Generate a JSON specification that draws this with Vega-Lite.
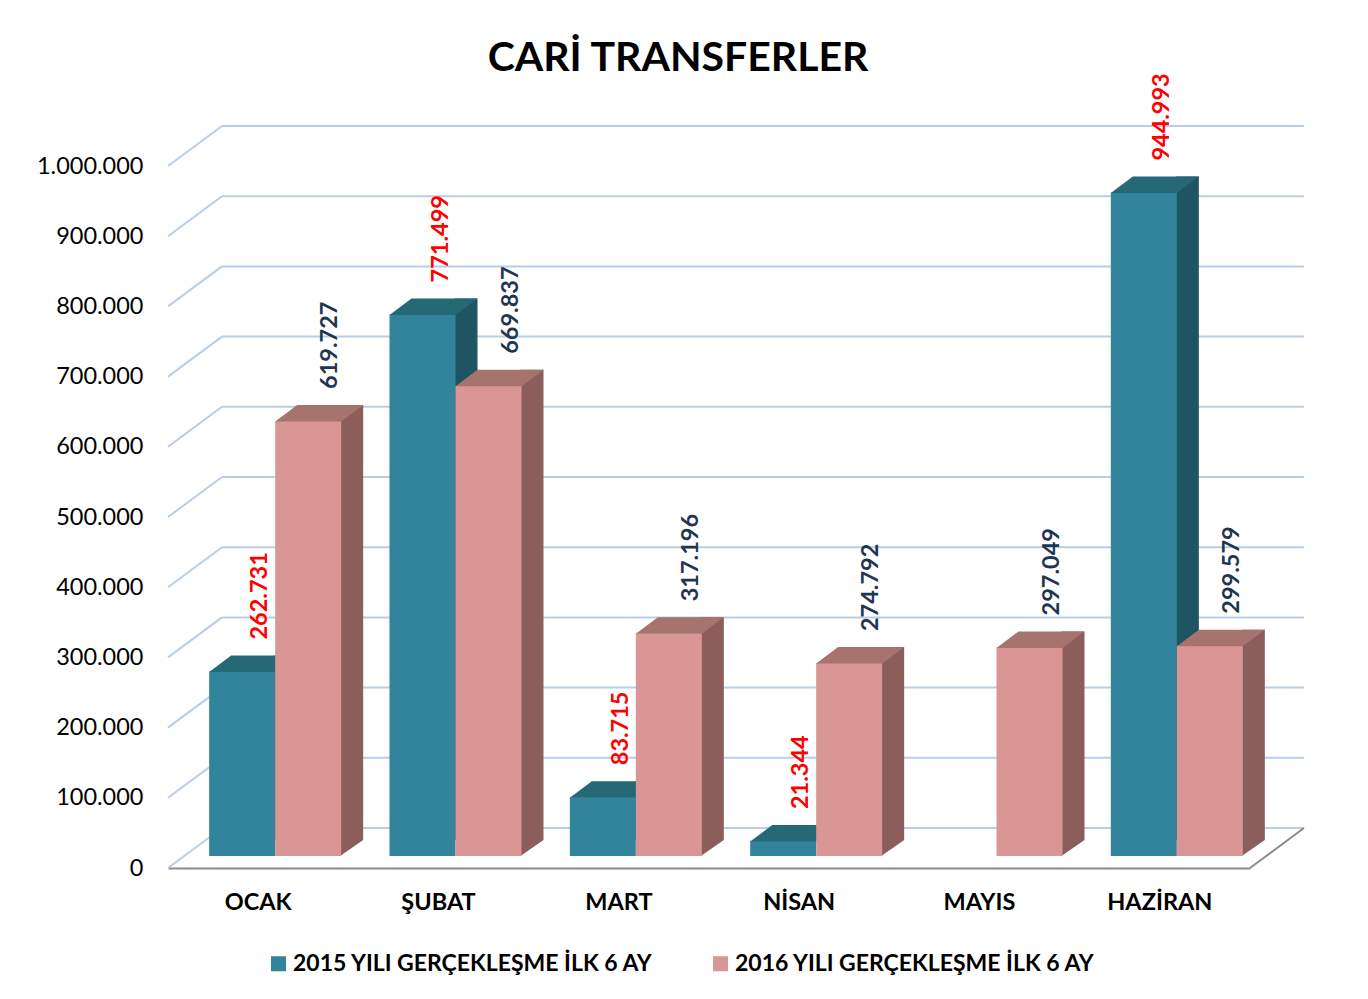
{
  "$schema": "https://vega.github.io/schema/vega-lite/v6.json",
  "width": 1082,
  "height": 702,
  "autosize": {"type": "none"},
  "padding": {"left": 168, "top": 166, "right": 118, "bottom": 131},
  "background": "white",
  "config": {
    "view": {"stroke": null},
    "font": "Lato",
    "locale": {"number": {"decimal": ",", "thousands": ".", "grouping": [3], "currency": ["", " TL"]}},
    "axisX": {"labelFont": "Lato", "labelFontSize": 23.5, "labelFontWeight": "bold", "labelColor": "#000000", "labelAngle": 0, "ticks": false, "grid": false, "domainColor": "#8C8C8C", "domainWidth": 2, "labelPadding": 22},
    "axisY": {"labelFont": "Lato", "labelFontSize": 23.5, "labelColor": "#000000", "labelPadding": 25, "domain": false, "ticks": false, "grid": false}
  },
  "title": {
    "text": "CARİ TRANSFERLER",
    "font": "Lato",
    "fontSize": 41,
    "fontWeight": "bold",
    "color": "#000000",
    "anchor": "middle",
    "dx": -31,
    "dy": 17,
    "offset": 10
  },
  "datasets": {
    "bars": [
      {"ay": "OCAK", "yil": 2015, "seri": "2015 YILI GERÇEKLEŞME İLK 6 AY", "deger": 262731},
      {"ay": "ŞUBAT", "yil": 2015, "seri": "2015 YILI GERÇEKLEŞME İLK 6 AY", "deger": 771499},
      {"ay": "MART", "yil": 2015, "seri": "2015 YILI GERÇEKLEŞME İLK 6 AY", "deger": 83715},
      {"ay": "NİSAN", "yil": 2015, "seri": "2015 YILI GERÇEKLEŞME İLK 6 AY", "deger": 21344},
      {"ay": "HAZİRAN", "yil": 2015, "seri": "2015 YILI GERÇEKLEŞME İLK 6 AY", "deger": 944993},
      {"ay": "OCAK", "yil": 2016, "seri": "2016 YILI GERÇEKLEŞME İLK 6 AY", "deger": 619727},
      {"ay": "ŞUBAT", "yil": 2016, "seri": "2016 YILI GERÇEKLEŞME İLK 6 AY", "deger": 669837},
      {"ay": "MART", "yil": 2016, "seri": "2016 YILI GERÇEKLEŞME İLK 6 AY", "deger": 317196},
      {"ay": "NİSAN", "yil": 2016, "seri": "2016 YILI GERÇEKLEŞME İLK 6 AY", "deger": 274792},
      {"ay": "MAYIS", "yil": 2016, "seri": "2016 YILI GERÇEKLEŞME İLK 6 AY", "deger": 297049},
      {"ay": "HAZİRAN", "yil": 2016, "seri": "2016 YILI GERÇEKLEŞME İLK 6 AY", "deger": 299579}
    ],
    "grid": [
      {"v": 0}, {"v": 100000}, {"v": 200000}, {"v": 300000}, {"v": 400000}, {"v": 500000},
      {"v": 600000}, {"v": 700000}, {"v": 800000}, {"v": 900000}, {"v": 1000000}
    ]
  },
  "resolve": {"scale": {"x": "independent"}},
  "layer": [
    {
      "data": {"name": "grid"},
      "layer": [
        {
          "mark": {"type": "rule", "color": "#B9CDE5", "strokeWidth": 2, "xOffset": 54, "x2Offset": 54, "yOffset": -40, "y2Offset": -40},
          "encoding": {
            "x": {"datum": 0, "type": "quantitative", "scale": {"domain": [0, 1], "nice": false}, "axis": null},
            "x2": {"datum": 1},
            "y": {"field": "v", "type": "quantitative", "scale": {"domain": [0, 1000000]}, "axis": {"title": null, "values": [0, 100000, 200000, 300000, 400000, 500000, 600000, 700000, 800000, 900000, 1000000], "format": ",d"}},
            "y2": {"field": "v"}
          }
        },
        {
          "mark": {"type": "rule", "color": "#B9CDE5", "strokeWidth": 2, "x2Offset": 54, "y2Offset": -40},
          "encoding": {
            "x": {"datum": 0, "type": "quantitative", "scale": {"domain": [0, 1], "nice": false}, "axis": null},
            "x2": {"datum": 0},
            "y": {"field": "v", "type": "quantitative", "scale": {"domain": [0, 1000000]}, "axis": {"title": null, "values": [0, 100000, 200000, 300000, 400000, 500000, 600000, 700000, 800000, 900000, 1000000], "format": ",d"}},
            "y2": {"field": "v"}
          }
        },
        {
          "transform": [{"filter": "datum.v === 0"}],
          "mark": {"type": "rule", "color": "#8C8C8C", "strokeWidth": 2, "x2Offset": 54, "y2Offset": -40},
          "encoding": {
            "x": {"datum": 1, "type": "quantitative", "scale": {"domain": [0, 1], "nice": false}, "axis": null},
            "x2": {"datum": 1},
            "y": {"field": "v", "type": "quantitative", "scale": {"domain": [0, 1000000]}, "axis": {"title": null, "values": [0, 100000, 200000, 300000, 400000, 500000, 600000, 700000, 800000, 900000, 1000000], "format": ",d"}},
            "y2": {"field": "v"}
          }
        }
      ]
    },
    {
      "data": {"name": "bars"},
      "encoding": {
        "x": {"field": "ay", "type": "nominal", "sort": null, "scale": {"domain": ["OCAK", "ŞUBAT", "MART", "NİSAN", "MAYIS", "HAZİRAN"], "paddingInner": 0, "paddingOuter": 0}, "axis": {"title": null}},
        "y": {"field": "deger", "type": "quantitative", "scale": {"domain": [0, 1000000]}, "axis": {"title": null, "values": [0, 100000, 200000, 300000, 400000, 500000, 600000, 700000, 800000, 900000, 1000000], "format": ",d"}}
      },
      "layer": [
        {
          "transform": [{"filter": "datum.yil === 2015"}],
          "mark": {"type": "bar", "width": 23, "xOffset": 27.5, "yOffset": -28, "y2Offset": -28, "color": "#1F5462"},
          "encoding": {"y2": {"datum": 0}}
        },
        {
          "transform": [{"filter": "datum.yil === 2015"}],
          "mark": {"type": "bar", "width": 66, "xOffset": -16, "yOffset": -12, "y2Offset": -12},
          "encoding": {
            "y2": {"datum": 0},
            "color": {"field": "seri", "type": "nominal",
              "scale": {"domain": ["2015 YILI GERÇEKLEŞME İLK 6 AY", "2016 YILI GERÇEKLEŞME İLK 6 AY"], "range": ["#31849B", "#D99694"]},
              "legend": {"title": null, "orient": "none", "legendX": 99, "legendY": 786, "direction": "horizontal", "symbolType": "square", "symbolSize": 225, "symbolStrokeWidth": 0, "labelFont": "Lato", "labelFontSize": 23, "labelFontWeight": "bold", "labelColor": "#000000", "labelLimit": 600, "labelOffset": 3, "columnPadding": 55, "padding": 0}}
          }
        },
        {
          "transform": [{"filter": "datum.yil === 2015"}],
          "mark": {"type": "point", "shape": "M -33 0.5 L 33 0.5 L 55 -16 L -11 -16 Z", "size": 4, "filled": true, "opacity": 1, "strokeWidth": 0, "color": "#256876", "xOffset": -16, "yOffset": -12}
        },
        {
          "transform": [{"filter": "datum.yil === 2016"}],
          "mark": {"type": "bar", "width": 23, "xOffset": 93.5, "yOffset": -28, "y2Offset": -28, "color": "#8B5E5C"},
          "encoding": {"y2": {"datum": 0}}
        },
        {
          "transform": [{"filter": "datum.yil === 2016"}],
          "mark": {"type": "point", "shape": "M 32 0 L 32 -16 L 55 -16 Z", "size": 4, "filled": true, "opacity": 1, "strokeWidth": 0, "color": "#8B5E5C", "xOffset": 50, "yOffset": -12},
          "encoding": {
            "y": {"datum": 0, "type": "quantitative", "scale": {"domain": [0, 1000000]}, "axis": {"title": null, "values": [0, 100000, 200000, 300000, 400000, 500000, 600000, 700000, 800000, 900000, 1000000], "format": ",d"}}
          }
        },
        {
          "transform": [{"filter": "datum.yil === 2016"}],
          "mark": {"type": "bar", "width": 66, "xOffset": 50, "yOffset": -12, "y2Offset": -12},
          "encoding": {
            "y2": {"datum": 0},
            "color": {"field": "seri", "type": "nominal", "scale": {"domain": ["2015 YILI GERÇEKLEŞME İLK 6 AY", "2016 YILI GERÇEKLEŞME İLK 6 AY"], "range": ["#31849B", "#D99694"]},
              "legend": {"title": null, "orient": "none", "legendX": 99, "legendY": 786, "direction": "horizontal", "symbolType": "square", "symbolSize": 225, "symbolStrokeWidth": 0, "labelFont": "Lato", "labelFontSize": 23, "labelFontWeight": "bold", "labelColor": "#000000", "labelLimit": 600, "labelOffset": 3, "columnPadding": 55, "padding": 0}}
          }
        },
        {
          "transform": [{"filter": "datum.yil === 2016"}],
          "mark": {"type": "point", "shape": "M -33 0.5 L 33 0.5 L 55 -16 L -11 -16 Z", "size": 4, "filled": true, "opacity": 1, "strokeWidth": 0, "color": "#A6736F", "xOffset": 50, "yOffset": -12}
        },
        {
          "transform": [{"filter": "datum.yil === 2015"}],
          "mark": {"type": "text", "angle": 270, "align": "left", "baseline": "middle", "font": "Lato", "fontSize": 23.5, "fontWeight": "bold", "color": "#FF0000", "xOffset": 2, "yOffset": -44},
          "encoding": {"text": {"field": "deger", "type": "quantitative", "format": ",d"}}
        },
        {
          "transform": [{"filter": "datum.yil === 2016"}],
          "mark": {"type": "text", "angle": 270, "align": "left", "baseline": "middle", "font": "Lato", "fontSize": 23.5, "fontWeight": "bold", "color": "#1F3552", "xOffset": 72, "yOffset": -44},
          "encoding": {"text": {"field": "deger", "type": "quantitative", "format": ",d"}}
        }
      ]
    }
  ]
}
